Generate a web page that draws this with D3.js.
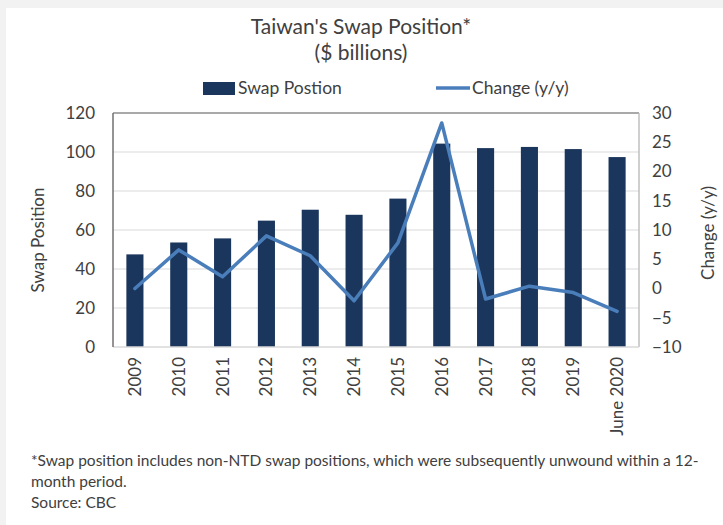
<!DOCTYPE html>
<html>
<head>
<meta charset="utf-8">
<script src="https://cdn.jsdelivr.net/npm/d3@7"></script>
<style>
  html, body { margin: 0; padding: 0; background: #f2f2f2; }
  svg { display: block; }
  text { font-family: Lato, "Open Sans", sans-serif; fill: #404040; }
</style>
</head>
<body>
<script>
const categories = ["2009","2010","2011","2012","2013","2014","2015","2016","2017","2018","2019","June 2020"];
const swapPosition = [47.5, 53.6, 55.7, 64.8, 70.4, 67.8, 76.1, 104.3, 102.0, 102.6, 101.5, 97.4];
const changeYY = [0.0, 6.6, 2.0, 9.0, 5.6, -2.1, 7.8, 28.3, -1.8, 0.4, -0.7, -3.9];
const leftTicks = [0, 20, 40, 60, 80, 100, 120];
const rightTicks = [-10, -5, 0, 5, 10, 15, 20, 25, 30];
const titleLines = ["Taiwan's Swap Position*", "($ billions)"];
const seriesNames = ["Swap Postion", "Change (y/y)"];
const footnotes = [
  "*Swap position includes non-NTD swap positions, which were subsequently unwound within a 12-",
  "month period.",
  "Source: CBC"
];

const W = 723, H = 525;
const plot = {left: 113, right: 639, top: 113, bottom: 347};
const barColor = "#1b365d", lineColor = "#4a7ebb";

const svg = d3.select("body").append("svg").attr("width", W).attr("height", H);
svg.append("rect").attr("x", 6).attr("y", 8).attr("width", W - 6).attr("height", H - 8).attr("fill", "#ffffff");

const x = d3.scaleBand().domain(categories).range([plot.left, plot.right]).paddingInner(0.61).paddingOuter(0.305);
const yL = d3.scaleLinear().domain([0, 120]).range([plot.bottom, plot.top]);
const yR = d3.scaleLinear().domain([-10, 30]).range([plot.bottom, plot.top]);

// gridlines
svg.append("g").selectAll("line").data(leftTicks.filter(t => t > 0 && t < 120)).join("line")
  .attr("x1", plot.left).attr("x2", plot.right)
  .attr("y1", d => yL(d)).attr("y2", d => yL(d))
  .attr("stroke", "#d9d9d9").attr("stroke-width", 1.2);

// top & right border
svg.append("line").attr("x1", plot.left).attr("x2", plot.right).attr("y1", plot.top).attr("y2", plot.top)
  .attr("stroke", "#8c8c8c").attr("stroke-width", 1.5);
svg.append("line").attr("x1", plot.right).attr("x2", plot.right).attr("y1", plot.top).attr("y2", plot.bottom)
  .attr("stroke", "#bfbfbf").attr("stroke-width", 1.5);

// bars
svg.append("g").selectAll("rect").data(categories).join("rect")
  .attr("x", d => x(d)).attr("width", x.bandwidth())
  .attr("y", (d, i) => yL(swapPosition[i]))
  .attr("height", (d, i) => yL(0) - yL(swapPosition[i]))
  .attr("fill", barColor);

// bottom axis line
svg.append("line").attr("x1", plot.left).attr("x2", plot.right).attr("y1", plot.bottom).attr("y2", plot.bottom)
  .attr("stroke", "#d9d9d9").attr("stroke-width", 1.5);
// left axis line
svg.append("line").attr("x1", plot.left).attr("x2", plot.left).attr("y1", plot.top).attr("y2", plot.bottom)
  .attr("stroke", "#707070").attr("stroke-width", 1.5);

// line series
const line = d3.line().x((d, i) => x(categories[i]) + x.bandwidth() / 2).y(d => yR(d));
svg.append("path").datum(changeYY).attr("d", line)
  .attr("fill", "none").attr("stroke", lineColor).attr("stroke-width", 3.5)
  .attr("stroke-linejoin", "round").attr("stroke-linecap", "round");

// left axis
const axL = svg.append("g").attr("transform", `translate(${plot.left},0)`)
  .call(d3.axisLeft(yL).tickValues(leftTicks).tickSize(0).tickPadding(18));
axL.select(".domain").remove();
axL.selectAll("text").style("font-size", "17px").attr("fill", "#404040").style("font-family", "Lato, sans-serif");

// right axis
const axR = svg.append("g").attr("transform", `translate(${plot.right},0)`)
  .call(d3.axisRight(yR).tickValues(rightTicks).tickSize(0).tickPadding(13));
axR.select(".domain").remove();
axR.selectAll("text").style("font-size", "17px").attr("fill", "#404040").style("font-family", "Lato, sans-serif");

// bottom axis
const axB = svg.append("g").attr("transform", `translate(0,${plot.bottom})`)
  .call(d3.axisBottom(x).tickSize(0).tickPadding(0));
axB.select(".domain").remove();
axB.selectAll("text")
  .attr("transform", "rotate(-90)")
  .attr("x", -10).attr("y", 0).attr("dy", "0.35em")
  .style("text-anchor", "end")
  .style("font-size", "17px").attr("fill", "#262626").style("font-family", "Lato, sans-serif");

// axis titles
svg.append("text").attr("transform", `translate(44,240) rotate(-90)`).attr("text-anchor", "middle")
  .style("font-size", "17px").attr("fill", "#262626").text("Swap Position");
svg.append("text").attr("transform", `translate(714,233) rotate(-90)`).attr("text-anchor", "middle")
  .style("font-size", "17px").attr("fill", "#262626").text("Change (y/y)");

// title
svg.append("g").selectAll("text").data(titleLines).join("text")
  .attr("x", 361).attr("y", (d, i) => 34 + i * 26).attr("text-anchor", "middle")
  .style("font-size", "21px").attr("fill", "#262626").text(d => d);

// legend
const lg = svg.append("g");
lg.append("rect").attr("x", 203).attr("y", 82).attr("width", 32).attr("height", 13).attr("fill", barColor);
lg.append("text").attr("x", 238).attr("y", 94).style("font-size", "17.5px").attr("fill", "#262626").text(seriesNames[0]);
lg.append("line").attr("x1", 436).attr("x2", 470).attr("y1", 88).attr("y2", 88)
  .attr("stroke", lineColor).attr("stroke-width", 3.5);
lg.append("text").attr("x", 472).attr("y", 94).style("font-size", "17.5px").attr("fill", "#262626").text(seriesNames[1]);

// footnotes
svg.append("g").selectAll("text").data(footnotes).join("text")
  .attr("x", 31).attr("y", (d, i) => 466 + i * 21)
  .style("font-size", "15.5px").attr("fill", "#262626").text(d => d);
</script>
</body>
</html>
